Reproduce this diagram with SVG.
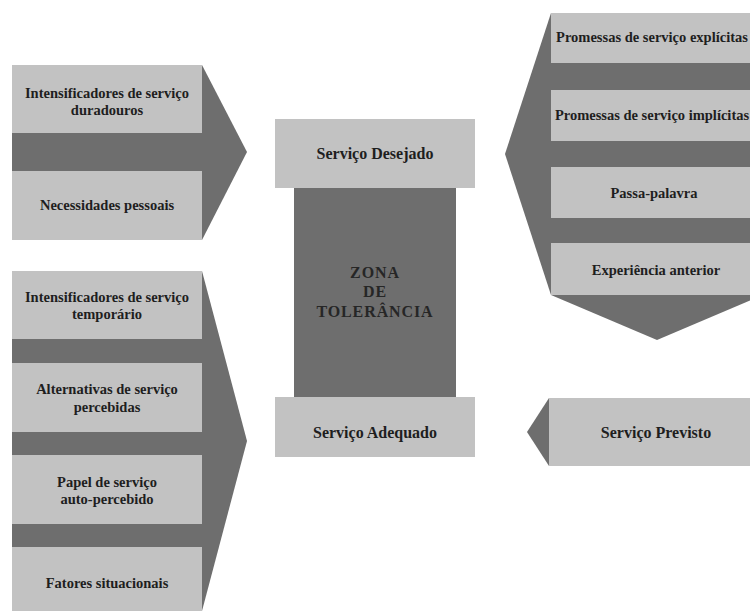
<svg xmlns="http://www.w3.org/2000/svg" width="750" height="611" viewBox="0 0 750 611">
<style>
.dk{fill:#6e6e6e}
.lt{fill:#c2c2c2}
text{font-family:"Liberation Serif","Times New Roman",serif;font-weight:bold;font-size:14.5px;fill:#1e1e1e;text-anchor:middle}
.mid{font-size:16px}
.big{font-size:16px;letter-spacing:0.9px;fill:#262626}
</style>
<rect width="750" height="611" fill="#fff"/>
<g id="fatores-duradouros">
<polygon class="dk" points="12,65 202,65 247,152 202,240 12,240"/>
<rect class="lt" x="12" y="65" width="190" height="68"/>
<rect class="lt" x="12" y="171" width="190" height="69"/>
<text x="107" y="98">Intensificadores de serviço</text>
<text x="107" y="115">duradouros</text>
<text x="107" y="210">Necessidades pessoais</text>
</g>
<g id="fatores-adequado">
<polygon class="dk" points="12,271 202,271 247,441 202,611 12,611"/>
<rect class="lt" x="12" y="271" width="190" height="68"/>
<rect class="lt" x="12" y="363" width="190" height="69"/>
<rect class="lt" x="12" y="455" width="190" height="69"/>
<rect class="lt" x="12" y="547" width="190" height="64"/>
<text x="107" y="302">Intensificadores de serviço</text>
<text x="107" y="319">temporário</text>
<text x="107" y="394">Alternativas de serviço</text>
<text x="107" y="412">percebidas</text>
<text x="107" y="487">Papel de serviço</text>
<text x="107" y="504">auto-percebido</text>
<text x="107" y="588">Fatores situacionais</text>
</g>
<g id="zona-tolerancia">
<rect class="dk" x="294" y="186" width="162" height="213"/>
<text class="big" x="375" y="278">ZONA</text>
<text class="big" x="375" y="297">DE</text>
<text class="big" x="375" y="317">TOLERÂNCIA</text>
</g>
<g id="servico-desejado">
<rect class="lt" x="275" y="119" width="200" height="69"/>
<text class="mid" x="375" y="159">Serviço Desejado</text>
</g>
<g id="servico-adequado">
<rect class="lt" x="275" y="397" width="200" height="60"/>
<text class="mid" x="375" y="438">Serviço Adequado</text>
</g>
<g id="fatores-previsto">
<polygon class="dk" points="551,13 763,13 763,295 657,340 551,295 505,154"/>
<rect class="lt" x="551" y="13" width="212" height="50"/>
<rect class="lt" x="551" y="90" width="212" height="51"/>
<rect class="lt" x="551" y="167" width="212" height="51"/>
<rect class="lt" x="551" y="243" width="212" height="52"/>
<text x="652" y="42">Promessas de serviço explícitas</text>
<text x="652" y="120">Promessas de serviço implícitas</text>
<text x="654" y="198">Passa-palavra</text>
<text x="656" y="275">Experiência anterior</text>
</g>
<g id="servico-previsto">
<polygon class="dk" points="549,398 527,432 549,466"/>
<rect class="lt" x="549" y="398" width="201" height="68"/>
<text class="mid" x="656" y="438">Serviço Previsto</text>
</g>
<g id="connectors"/>
</svg>
